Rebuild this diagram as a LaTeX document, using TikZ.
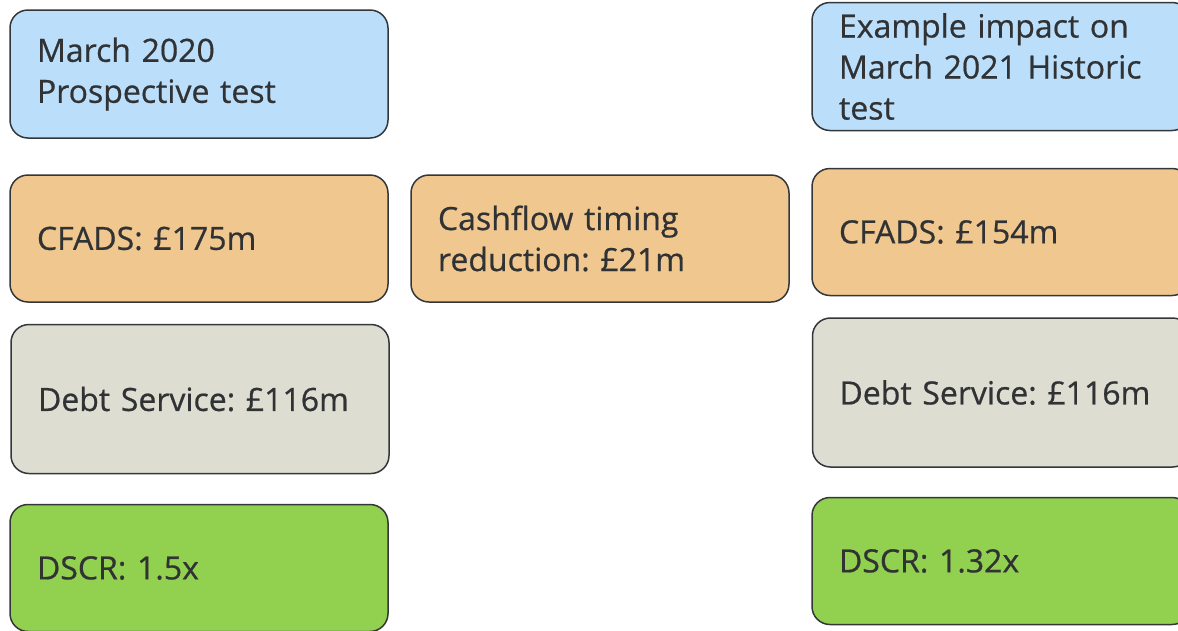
\documentclass[tikz,border=0pt]{standalone}
\usepackage{fontspec}
\setmainfont[FakeBold=0.6]{Open Sans}
\frenchspacing
\definecolor{testblue}{RGB}{187,222,251}
\definecolor{cfadsorange}{RGB}{240,200,143}
\definecolor{debtgrey}{RGB}{221,221,210}
\definecolor{dscrgreen}{RGB}{146,208,80}
\definecolor{edgegrey}{RGB}{51,55,58}
\definecolor{textgrey}{RGB}{48,50,52}
\usetikzlibrary{positioning}

\begin{document}
\begin{tikzpicture}[x=1pt,y=-1pt,
        box/.style={draw=edgegrey,line width=1.5pt,rounded corners=18pt,
                    minimum width=378pt,text width=324pt,align=left,inner sep=0pt,
                    text=textgrey,font=\fontsize{32}{41}\selectfont},
        bluebox/.style={box,fill=testblue,minimum height=128pt},
        orangebox/.style={box,fill=cfadsorange,minimum height=127pt},
        greybox/.style={box,fill=debtgrey,minimum height=149pt},
        greenbox/.style={box,fill=dscrgreen,minimum height=127pt}
    ]
        \clip (0,0) rectangle (1178,630);
        % Nodes: March 2020 column
        \node[bluebox] (prosp) at (199,74) {March 2020\\Prospective test};
        \node[orangebox] (cfadsold) at (199,238.5) {CFADS: £175m};
        \node[greybox] (debtold) at (200,399) {Debt Service: £116m};
        \node[greenbox] (dscrold) at (199,568) {DSCR: 1.5x};

        % Nodes: timing change
        \node[orangebox] (timing) at (600,238.5) {Cashflow timing\\reduction: £21m};

        % Nodes: March 2021 column
        \node[bluebox] (hist) at (1001,66.5) {Example impact on\\March 2021 Historic\\test};
        \node[orangebox] (cfadsnew) at (1001,232) {CFADS: £154m};
        \node[greybox] (debtnew) at (1001.5,392.5) {Debt Service: £116m};
        \node[greenbox] (dscrnew) at (1001,561) {DSCR: 1.32x};
    \end{tikzpicture}
\end{document}
